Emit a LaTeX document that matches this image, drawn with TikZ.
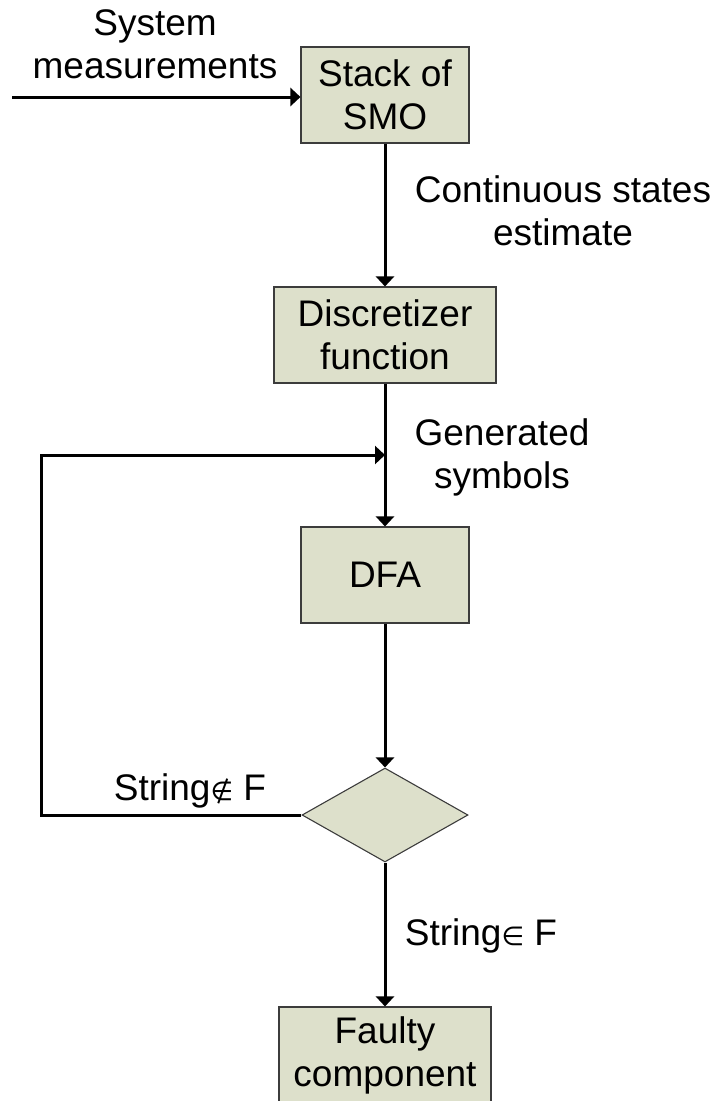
\documentclass[tikz,border=0pt]{standalone}
\usepackage{fontspec}
\setmainfont{Liberation Sans}
\newfontfamily\symfont{DejaVu Sans}
\usetikzlibrary{arrows.meta,shapes.geometric}
\definecolor{boxfill}{RGB}{221,224,203}
\definecolor{boxline}{RGB}{60,60,60}
\newcommand{\elemof}{{\symfont\fontsize{26}{26}\selectfont ∈}}
\newcommand{\notelemof}{{\symfont\fontsize{26}{26}\selectfont ∉}}
\begin{document}
\begin{tikzpicture}[x=1pt,y=-1pt,
  every node/.style={font=\fontsize{37}{43}\selectfont, inner sep=0pt},
  block/.style={draw=boxline, line width=1.1pt, fill=boxfill, align=center,
    minimum height=96pt},
  decision/.style={diamond, draw=boxline, line width=1.1pt, fill=boxfill,
    minimum width=166pt, minimum height=94pt},
  lbl/.style={align=center, anchor=base},
  arr/.style={line width=3pt, -{Triangle[length=10pt,width=18pt]}}]
\useasboundingbox (0,0) rectangle (717,1101);

% process blocks
\node[block, minimum width=168pt] (smo) at (385,95) {Stack of\\SMO};
\node[block, minimum width=222pt] (disc) at (385,335) {Discretizer\\function};
\node[block, minimum width=168pt] (dfa) at (385,575) {DFA};
\node[decision] (dec) at (385,815) {};
\node[block, minimum width=212pt] (fault) at (385,1055) {Faulty\\component};

% labels (anchored at the baseline of their last line)
\node[lbl] (lsys) at (155,78) {System\\measurements};
\node[lbl] (lcont) at (563,245) {Continuous states\\estimate};
\node[lbl] (lgen) at (502,488) {Generated\\symbols};
\node[lbl] (lnot) at (190,800) {String\notelemof\ F};
\node[lbl] (lin) at (481,945) {String\elemof\ F};

% connectors
\coordinate (src) at (12,97);
\coordinate (fb) at (41,455);
\draw[arr] (src) -- (src -| smo.west);
\draw[arr] (smo.south) -- (disc.north);
\draw[arr] (disc.south) -- (dfa.north);
\draw[arr] (dfa.south) -- (dec.north);
\draw[arr] (dec.south) -- (fault.north);
\draw[arr] (dec.west) -| (fb) -- (fb -| disc.south);
\end{tikzpicture}
\end{document}
